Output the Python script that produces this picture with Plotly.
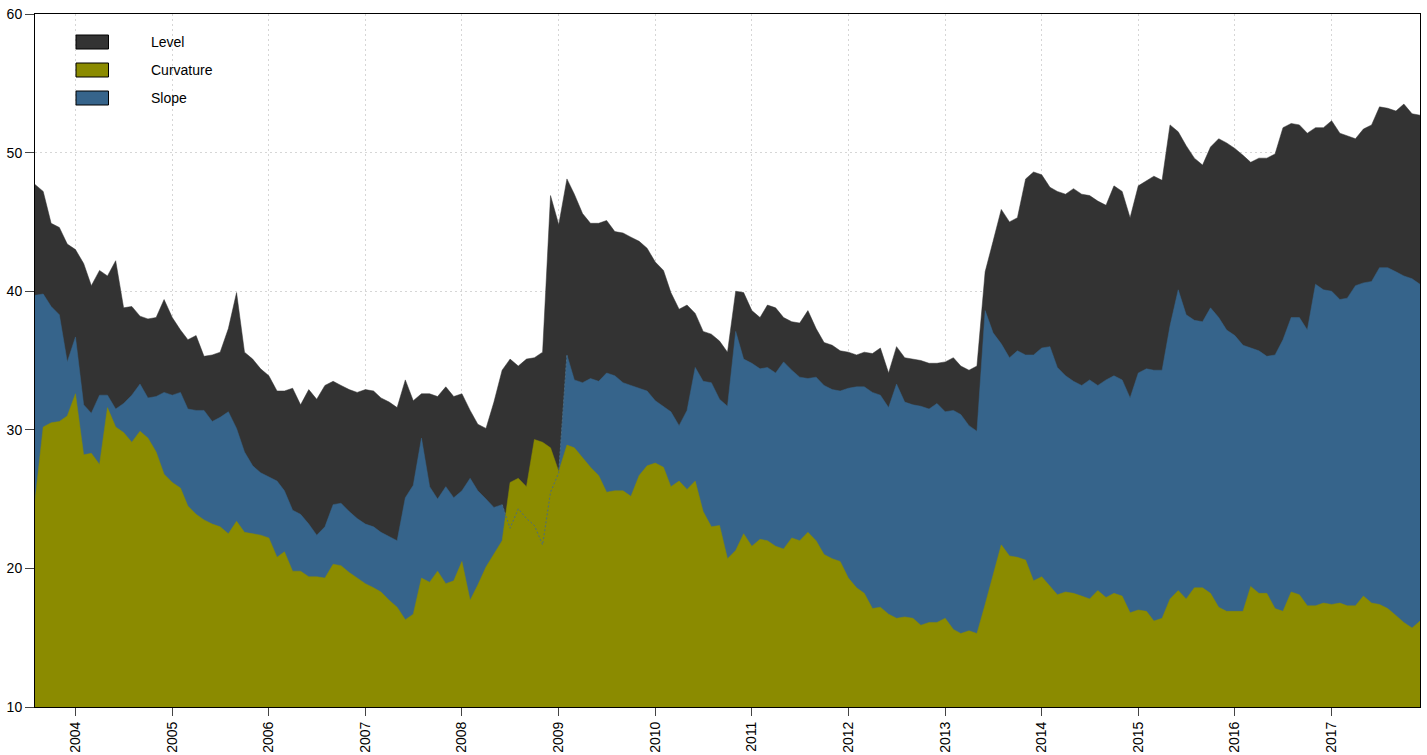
import pandas as pd
import plotly.graph_objects as go

# Monthly observations, Aug 2003 .. Dec 2017
dates = pd.date_range("2003-08-01", periods=173, freq="MS")

level = [
    47.7, 47.2, 44.9, 44.6, 43.4, 43.0, 42.0, 40.4, 41.5, 41.1,
    42.2, 38.8, 38.9, 38.2, 38.0, 38.1, 39.4, 38.1, 37.2, 36.5,
    36.8, 35.3, 35.4, 35.6, 37.3, 39.9, 35.6, 35.1, 34.4, 33.9,
    32.8, 32.8, 33.0, 31.8, 32.9, 32.2, 33.2, 33.5, 33.2, 32.9,
    32.7, 32.9, 32.8, 32.3, 32.0, 31.6, 33.6, 32.1, 32.6, 32.6,
    32.4, 33.1, 32.4, 32.6, 31.4, 30.4, 30.1, 32.0, 34.3, 35.1,
    34.6, 35.1, 35.2, 35.6, 46.9, 44.8, 48.1, 47.0, 45.6, 44.9,
    44.9, 45.1, 44.3, 44.2, 43.9, 43.6, 43.1, 42.1, 41.5, 39.9,
    38.7, 39.0, 38.4, 37.1, 36.9, 36.4, 35.6, 40.0, 39.9, 38.6,
    38.1, 39.0, 38.8, 38.1, 37.8, 37.7, 38.6, 37.3, 36.3, 36.1,
    35.7, 35.6, 35.4, 35.6, 35.5, 35.9, 34.1, 36.0, 35.2, 35.1,
    35.0, 34.8, 34.8, 34.9, 35.2, 34.6, 34.3, 34.6, 41.4, 43.6,
    45.9, 45.0, 45.3, 48.1, 48.6, 48.4, 47.5, 47.2, 47.0, 47.4,
    47.0, 46.9, 46.5, 46.2, 47.6, 47.2, 45.3, 47.6, 48.0, 48.3,
    48.0, 52.0, 51.5, 50.5, 49.6, 49.1, 50.4, 51.0, 50.7, 50.3,
    49.8, 49.3, 49.6, 49.6, 49.9, 51.8, 52.1, 52.0, 51.4, 51.8,
    51.8, 52.3, 51.4, 51.2, 51.0, 51.7, 52.0, 53.3, 53.2, 53.0,
    53.5, 52.8, 52.7,
]

slope = [
    39.7, 39.8, 38.9, 38.3, 34.9, 36.7, 31.8, 31.2, 32.5, 32.5,
    31.5, 31.9, 32.5, 33.3, 32.3, 32.4, 32.7, 32.5, 32.7, 31.5,
    31.4, 31.4, 30.6, 30.9, 31.3, 30.1, 28.4, 27.4, 26.9, 26.6,
    26.3, 25.6, 24.2, 23.9, 23.2, 22.4, 23.0, 24.6, 24.7, 24.1,
    23.6, 23.2, 23.0, 22.6, 22.3, 22.0, 25.1, 26.0, 29.4, 25.9,
    25.0, 25.9, 25.1, 25.6, 26.5, 25.6, 25.0, 24.4, 24.6, 22.9,
    24.3, 23.6, 23.1, 21.7, 25.5, 26.9, 35.4, 33.6, 33.4, 33.7,
    33.5, 34.1, 33.9, 33.4, 33.2, 33.0, 32.8, 32.1, 31.7, 31.3,
    30.3, 31.4, 34.5, 33.5, 33.4, 32.2, 31.7, 37.1, 35.1, 34.8,
    34.4, 34.5, 34.1, 34.9, 34.3, 33.8, 33.7, 33.8, 33.2, 32.9,
    32.8, 33.0, 33.1, 33.1, 32.7, 32.5, 31.6, 33.3, 32.0, 31.8,
    31.7, 31.5, 31.9, 31.3, 31.4, 31.1, 30.3, 29.9, 38.6, 37.0,
    36.2, 35.2, 35.7, 35.4, 35.4, 35.9, 36.0, 34.5, 33.9, 33.5,
    33.2, 33.6, 33.2, 33.6, 33.9, 33.6, 32.3, 34.1, 34.4, 34.3,
    34.3, 37.5, 40.1, 38.3, 37.9, 37.8, 38.8, 38.1, 37.2, 36.8,
    36.1, 35.9, 35.7, 35.3, 35.4, 36.5, 38.1, 38.1, 37.2, 40.5,
    40.1, 40.0, 39.4, 39.5, 40.4, 40.6, 40.7, 41.7, 41.7, 41.4,
    41.1, 40.9, 40.5,
]

curvature = [
    24.9, 30.2, 30.5, 30.6, 31.0, 32.6, 28.2, 28.3, 27.5, 31.6,
    30.2, 29.8, 29.1, 29.9, 29.4, 28.4, 26.8, 26.2, 25.8, 24.5,
    23.9, 23.5, 23.2, 23.0, 22.5, 23.4, 22.6, 22.5, 22.4, 22.2,
    20.8, 21.2, 19.8, 19.8, 19.4, 19.4, 19.3, 20.3, 20.2, 19.7,
    19.3, 18.9, 18.6, 18.3, 17.7, 17.2, 16.3, 16.7, 19.3, 19.0,
    19.8, 18.9, 19.1, 20.5, 17.7, 18.8, 20.1, 21.0, 22.0, 26.2,
    26.5, 25.9, 29.3, 29.1, 28.7, 27.0, 28.9, 28.7, 28.0, 27.3,
    26.7, 25.5, 25.6, 25.6, 25.2, 26.7, 27.4, 27.6, 27.3, 25.9,
    26.3, 25.7, 26.3, 24.1, 23.0, 23.1, 20.7, 21.3, 22.5, 21.6,
    22.1, 22.0, 21.6, 21.4, 22.2, 22.0, 22.6, 22.0, 21.0, 20.7,
    20.5, 19.3, 18.6, 18.2, 17.1, 17.2, 16.7, 16.4, 16.5, 16.4,
    15.9, 16.1, 16.1, 16.4, 15.6, 15.3, 15.5, 15.3, 17.4, 19.6,
    21.7, 20.9, 20.8, 20.6, 19.1, 19.4, 18.7, 18.1, 18.3, 18.2,
    18.0, 17.8, 18.4, 17.9, 18.2, 18.0, 16.8, 17.0, 16.9, 16.2,
    16.4, 17.8, 18.4, 17.8, 18.6, 18.6, 18.2, 17.2, 16.9, 16.9,
    16.9, 18.7, 18.2, 18.2, 17.1, 16.9, 18.3, 18.1, 17.3, 17.3,
    17.5, 17.4, 17.5, 17.3, 17.3, 18.0, 17.5, 17.4, 17.1, 16.6,
    16.1, 15.7, 16.2,
]

years = list(range(2004, 2018))
y_ticks = [10, 20, 30, 40, 50, 60]

C_LEVEL = "#333333"
C_CURV = "#8B8B00"
C_SLOPE = "#36648B"
GRID = "#d6d6d6"

# slope line visible where it lies beneath curvature (dotted)
n = len(slope)
hidden = [s < c for s, c in zip(slope, curvature)]
slope_hidden = []
for i in range(n):
    near = hidden[i] or (i > 0 and hidden[i - 1]) or (i < n - 1 and hidden[i + 1])
    slope_hidden.append(slope[i] if near else None)

fig = go.Figure()
fig.add_trace(go.Scatter(x=dates, y=level, mode="lines", fill="tozeroy",
                         fillcolor=C_LEVEL, line=dict(color=C_LEVEL, width=0.5),
                         name="Level", showlegend=False))
fig.add_trace(go.Scatter(x=dates, y=slope, mode="lines", fill="tozeroy",
                         fillcolor=C_SLOPE, line=dict(color=C_SLOPE, width=0.5),
                         name="Slope", showlegend=False))
fig.add_trace(go.Scatter(x=dates, y=curvature, mode="lines", fill="tozeroy",
                         fillcolor=C_CURV, line=dict(color=C_CURV, width=0.5),
                         name="Curvature", showlegend=False))
fig.add_trace(go.Scatter(x=dates, y=slope_hidden, mode="lines",
                         line=dict(color="#4d6b7f", width=1, dash="2px,2px"),
                         connectgaps=False, showlegend=False, hoverinfo="skip"))

# legend drawn manually (box + label)
L, R, T, B = 35, 1420, 14, 707
W, H = R - L, B - T
def px(x):
    return (x - L) / W
def py(y):
    return (B - y) / H

legend_items = [("Level", C_LEVEL, 35), ("Curvature", C_CURV, 63), ("Slope", C_SLOPE, 91)]
shapes = []
annotations = []
for name, col, top in legend_items:
    shapes.append(dict(type="rect", xref="paper", yref="paper",
                       x0=px(76), x1=px(108.5), y0=py(top + 14), y1=py(top),
                       fillcolor=col, line=dict(color="black", width=1)))
    annotations.append(dict(text=name, xref="paper", yref="paper",
                            x=px(149), y=py(top + 7), xanchor="left", yanchor="middle",
                            showarrow=False,
                            font=dict(size=14, color="black",
                                      family="Liberation Sans, Arial, sans-serif")))

fig.update_layout(
    width=1427, height=755,
    margin=dict(l=L, r=1427 - R, t=T, b=755 - B, autoexpand=False),
    paper_bgcolor="white", plot_bgcolor="white",
    font=dict(family="Liberation Sans, Arial, sans-serif", size=14, color="black"),
    shapes=shapes, annotations=annotations,
    showlegend=False,
)
fig.update_xaxes(
    range=[dates[0], dates[-1]],
    tickvals=[pd.Timestamp(f"{y}-01-01") for y in years],
    ticktext=[str(y) for y in years],
    tickangle=-90,
    ticks="outside", ticklen=8, tickcolor="#444444",
    showline=True, linecolor="black", linewidth=1, mirror=True,
    showgrid=True, gridcolor=GRID, griddash="2px,3px", gridwidth=1,
    zeroline=False, automargin=False,
    tickfont=dict(size=14),
)
fig.update_yaxes(
    range=[10, 60],
    tickvals=y_ticks,
    ticks="outside", ticklen=9, tickcolor="#444444",
    showline=True, linecolor="black", linewidth=1, mirror=True,
    showgrid=True, gridcolor=GRID, griddash="2px,3px", gridwidth=1,
    zeroline=False, automargin=False,
    tickfont=dict(size=14),
)

fig.write_html("out.html")
